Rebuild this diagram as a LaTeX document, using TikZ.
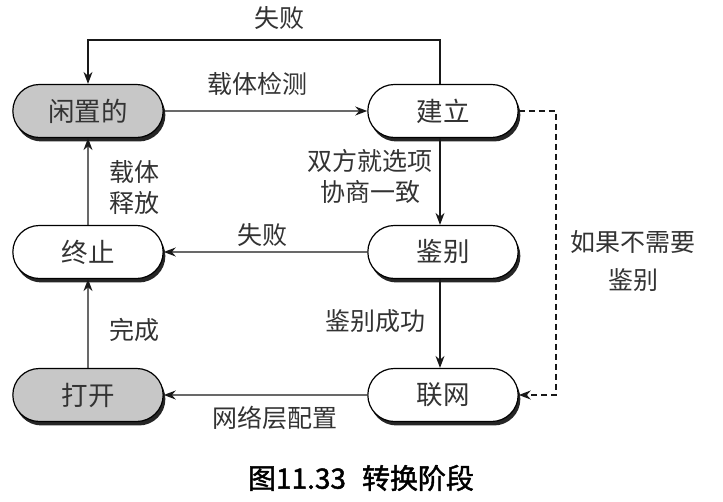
\documentclass[tikz,border=0pt]{standalone}
\usepackage{fontspec}
\newfontfamily\cjk{Noto Sans CJK SC}
\newfontfamily\cjkcap[FakeBold=1.5]{Noto Sans CJK SC}
\usetikzlibrary{shapes.misc,shadows,arrows.meta}
\begin{document}
\begin{tikzpicture}[x=1pt,y=-1pt,
  state/.style={rounded rectangle,draw=black,line width=1.2pt,minimum width=157pt,minimum height=53pt,fill=white,
    font=\cjk\fontsize{26.5}{30}\selectfont,text=black!80,
    drop shadow={shadow xshift=2.2pt,shadow yshift=-4pt,fill=black!85,opacity=1}},
  shaded/.style={state,fill=black!22},
  lbl/.style={font=\cjk\fontsize{25}{31}\selectfont,text=black!80,align=center,inner sep=0pt},
  conn/.style={line width=1.3pt,draw=black!90,-{Stealth[length=12pt,width=9pt]}},
  dconn/.style={conn,dashed,dash pattern=on 6pt off 4pt}]
\useasboundingbox (0,0) rectangle (723,502);
\node[shaded] (idle) at (88,111) {闲置的};
\node[state] (est) at (443,111) {建立};
\node[state] (auth) at (443,252) {鉴别};
\node[state] (term) at (88,252) {终止};
\node[state] (net) at (443,395) {联网};
\node[shaded] (open) at (88,395) {打开};
\coordinate (tr) at (440,40);
\coordinate (tl) at (88,40);
\coordinate (dr1) at (556,111);
\coordinate (dr2) at (556,395);
% connectors
\draw[conn] (idle) -- (est);
\draw[conn] (est.north -| tr) -- (tr) -- (tl) -- (idle.north);
\draw[conn] (est.south -| tr) -- (auth.north -| tr);
\draw[conn] (auth) -- (term);
\draw[conn] (term) -- (idle);
\draw[conn] (auth.south -| tr) -- (net.north -| tr);
\draw[conn] (open) -- (term);
\draw[conn] (net) -- (open);
\draw[dconn] (est.east) -- (dr1) -- (dr2) -- (net.east);
% labels
\node[lbl] (l1) at (279,18) {失败};
\node[lbl] (l2) at (257,84) {载体检测};
\node[lbl] (l3) at (370,176) {双方就选项\\协商一致};
\node[lbl] (l4) at (262,235) {失败};
\node[lbl] (l5) at (134,188) {载体\\释放};
\node[lbl] (l6) at (375,321) {鉴别成功};
\node[lbl] (l7) at (134,330) {完成};
\node[lbl] (l8) at (275,418) {网络层配置};
\node[lbl,font=\cjk\fontsize{25}{38}\selectfont] (l9) at (633,261) {如果不需要\\鉴别};
\node[font=\cjkcap\fontsize{28}{30}\selectfont,text=black,inner sep=0pt] (cap) at (361,478) {图11.33\hspace{16pt}转换阶段};
\end{tikzpicture}
\end{document}
